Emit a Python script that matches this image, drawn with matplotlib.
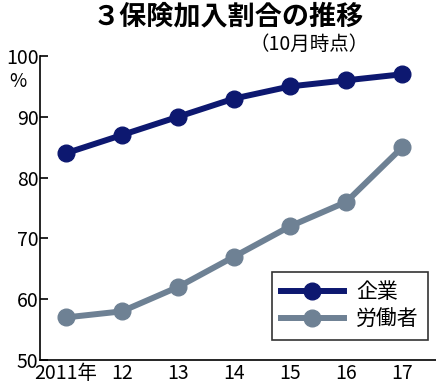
import matplotlib
matplotlib.use("Agg")
import matplotlib.pyplot as plt

plt.rcParams['font.family'] = ['Noto Sans CJK JP', 'DejaVu Sans']

years = ["2011年", "12", "13", "14", "15", "16", "17"]
kigyo = [84, 87, 90, 93, 95, 96, 97]
rodosha = [57, 58, 62, 67, 72, 76, 85]

c1 = "#0d1870"
c2 = "#6e8194"

fig = plt.figure(figsize=(4.36, 3.87), dpi=100)
ax = fig.add_axes([40/436, 1-360/387, 396/436, (360-56)/387])
x = list(range(len(years)))
ax.plot(x, kigyo, color=c1, lw=4.3, marker='o', ms=12, label="企業")
ax.plot(x, rodosha, color=c2, lw=4.3, marker='o', ms=12, label="労働者")
ax.set_xlim(-0.46, 6.6)
ax.set_ylim(50, 100)
ax.set_yticks([50, 60, 70, 80, 90, 100])
ax.set_yticklabels(["50", "60", "70", "80", "90", "100"])
ax.set_xticks(x)
ax.set_xticklabels(years)
ax.tick_params(axis='y', direction='in', length=6, width=1.2, labelsize=14, pad=1)
ax.tick_params(axis='x', length=0, labelsize=14, pad=2)
for s in ['top', 'right']:
    ax.spines[s].set_visible(False)
for s in ['left', 'bottom']:
    ax.spines[s].set_linewidth(1.2)
ax.text(-0.035, 0.95, "%", transform=ax.transAxes, ha='right', va='top', fontsize=13.5)
leg = ax.legend(loc='lower right', bbox_to_anchor=(0.98, 0.066), fontsize=15,
                frameon=True, fancybox=False, edgecolor='black', handlelength=3.0,
                borderpad=0.45, labelspacing=0.25, handletextpad=0.6, borderaxespad=0)
leg.get_frame().set_linewidth(1.2)
fig.text(0.523, 0.995, "３保険加入割合の推移", ha='center', va='top', fontsize=19.5, fontweight='bold')
fig.text(0.71, 0.912, "（10月時点）", ha='center', va='top', fontsize=14)
fig.savefig("out.png", dpi=100)
